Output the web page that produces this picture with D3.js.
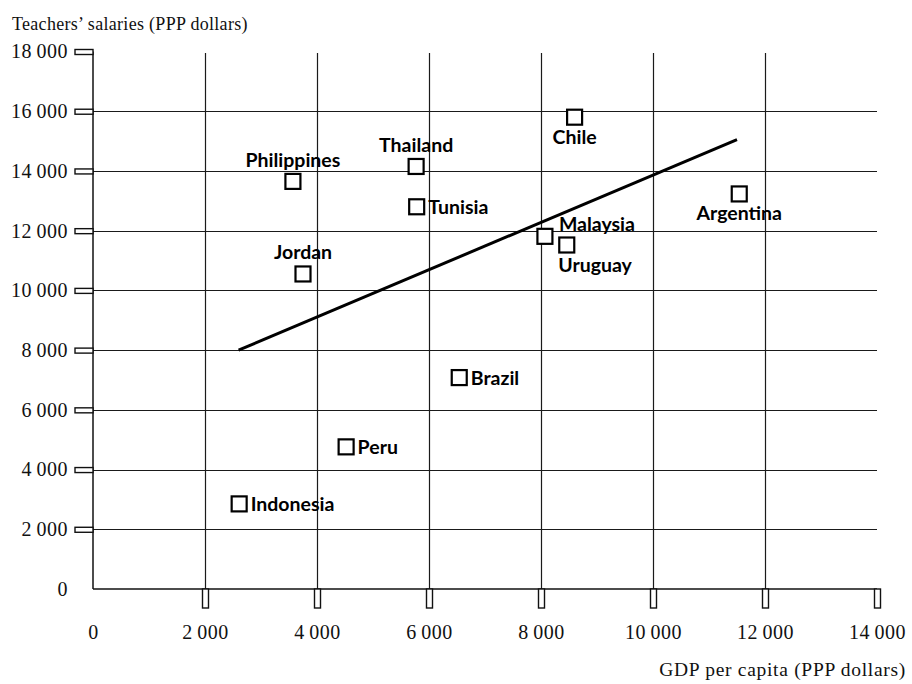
<!DOCTYPE html>
<html>
<head>
<meta charset="utf-8">
<script src="https://cdn.jsdelivr.net/npm/d3@7"></script>
<style>
  html, body { margin: 0; padding: 0; background: #fff; }
  svg { display: block; }
</style>
</head>
<body>
<svg id="chart" width="912" height="684"></svg>
<script>
// ---- Data ----
const countries = ["Philippines", "Thailand", "Tunisia", "Jordan", "Chile", "Argentina",
                   "Malaysia", "Uruguay", "Brazil", "Peru", "Indonesia"];
const gdpPerCapita = [3570, 5770, 5780, 3750, 8600, 11540, 8070, 8460, 6540, 4520, 2610];
const teacherSalary = [13650, 14150, 12800, 10550, 15800, 13230, 11810, 11520, 7080, 4760, 2850];
const labelPlacement = ["above", "above", "right", "above", "below", "below",
                        "rightAbove", "belowStart", "right", "right", "right"];
const trendX = [2600, 11500];
const trendY = [8000, 15050];
const xTicks = [0, 2000, 4000, 6000, 8000, 10000, 12000, 14000];
const yTicks = [0, 2000, 4000, 6000, 8000, 10000, 12000, 14000, 16000, 18000];
const xTitle = "GDP per capita (PPP dollars)";
const yTitle = "Teachers\u2019 salaries (PPP dollars)";

// ---- Layout ----
const svg = d3.select("#chart");
const x = d3.scaleLinear().domain([0, 14000]).range([93, 877]);
const y = d3.scaleLinear().domain([0, 18000]).range([589, 51.5]);
const fmt = v => v === 0 ? "0" : d3.format(",")(v).replace(/,/g, "\u2009");
const serif = "'Liberation Serif', 'DejaVu Serif', serif";
const sans = "Lato, 'Open Sans', sans-serif";

// grid lines
svg.append("g").selectAll("line")
  .data(yTicks.filter(v => v > 0 && v < 18000))
  .join("line")
  .attr("x1", x(0)).attr("x2", x(14000))
  .attr("y1", d => Math.round(y(d)) + 0.5).attr("y2", d => Math.round(y(d)) + 0.5)
  .attr("stroke", "#1a1a1a").attr("stroke-width", 1.2);

svg.append("g").selectAll("line")
  .data(xTicks.filter(v => v > 0 && v < 14000))
  .join("line")
  .attr("x1", d => Math.round(x(d)) + 0.5).attr("x2", d => Math.round(x(d)) + 0.5)
  .attr("y1", y(0)).attr("y2", y(17950))
  .attr("stroke", "#1a1a1a").attr("stroke-width", 1.2);

// axes lines
svg.append("line").attr("x1", x(0)).attr("x2", x(0)).attr("y1", y(0)).attr("y2", y(18000))
  .attr("stroke", "#111").attr("stroke-width", 1.5);
svg.append("line").attr("x1", x(0)).attr("x2", x(14000)).attr("y1", y(0)).attr("y2", y(0))
  .attr("stroke", "#111").attr("stroke-width", 1.5);

// Y axis via d3.axisLeft (labels), custom tick boxes
const yAxis = svg.append("g").attr("transform", `translate(${x(0)},0)`)
  .call(d3.axisLeft(y).tickValues(yTicks).tickFormat(fmt).tickSize(0).tickPadding(25));
yAxis.select(".domain").remove();
yAxis.selectAll("text").attr("font-family", serif).attr("font-size", 20)
  .attr("letter-spacing", 0.5).attr("fill", "#111");
yAxis.selectAll(".tick").filter(d => d > 0).append("rect")
  .attr("x", -18).attr("y", -2.5).attr("width", 18).attr("height", 5)
  .attr("fill", "#fff").attr("stroke", "#111").attr("stroke-width", 1.4);

// X axis
const xAxis = svg.append("g").attr("transform", `translate(0,${y(0)})`)
  .call(d3.axisBottom(x).tickValues(xTicks).tickFormat(fmt).tickSize(0).tickPadding(36));
xAxis.select(".domain").remove();
xAxis.selectAll("text").attr("font-family", serif).attr("font-size", 20)
  .attr("letter-spacing", 0.5).attr("fill", "#111");
xAxis.selectAll(".tick").filter(d => d > 0).append("rect")
  .attr("x", -3).attr("y", 0).attr("width", 6).attr("height", 19)
  .attr("fill", "#fff").attr("stroke", "#111").attr("stroke-width", 1.4);

// titles
svg.append("text").attr("x", 12).attr("y", 30).text(yTitle)
  .attr("font-family", serif).attr("font-size", 18).attr("letter-spacing", 0.3).attr("fill", "#111");
svg.append("text").attr("x", 906).attr("y", 676).attr("text-anchor", "end").text(xTitle)
  .attr("font-family", serif).attr("font-size", 19.5).attr("letter-spacing", 0.7).attr("fill", "#111");

// trend line
svg.append("path")
  .datum(trendX.map((v, i) => [v, trendY[i]]))
  .attr("d", d3.line().x(d => x(d[0])).y(d => y(d[1])))
  .attr("stroke", "#000").attr("stroke-width", 3).attr("fill", "none");

// points
const pts = countries.map((c, i) => ({ c, gx: gdpPerCapita[i], sy: teacherSalary[i], pos: labelPlacement[i] }));
const S = 15;
const g = svg.append("g");
g.selectAll("rect").data(pts).join("rect")
  .attr("x", d => x(d.gx) - S / 2).attr("y", d => y(d.sy) - S / 2)
  .attr("width", S).attr("height", S)
  .attr("fill", "#fff").attr("stroke", "#000").attr("stroke-width", 2.2);

g.selectAll("text").data(pts).join("text")
  .text(d => d.c)
  .attr("font-family", sans).attr("font-weight", 700).attr("font-size", 19.5).attr("fill", "#000")
  .attr("text-anchor", d => (d.pos === "above" || d.pos === "below") ? "middle" : "start")
  .attr("x", d => {
    const cx = x(d.gx);
    if (d.pos === "right") return cx + S / 2 + 4;
    if (d.pos === "rightAbove") return cx + 14;
    if (d.pos === "belowStart") return cx - S / 2 - 1;
    return cx;
  })
  .attr("y", d => {
    const cy = y(d.sy);
    if (d.pos === "above") return cy - S / 2 - 7;
    if (d.pos === "below") return cy + S / 2 + 19;
    if (d.pos === "belowStart") return cy + S / 2 + 19;
    if (d.pos === "rightAbove") return cy - 5;
    return cy + S / 2;
  });
</script>
</body>
</html>
